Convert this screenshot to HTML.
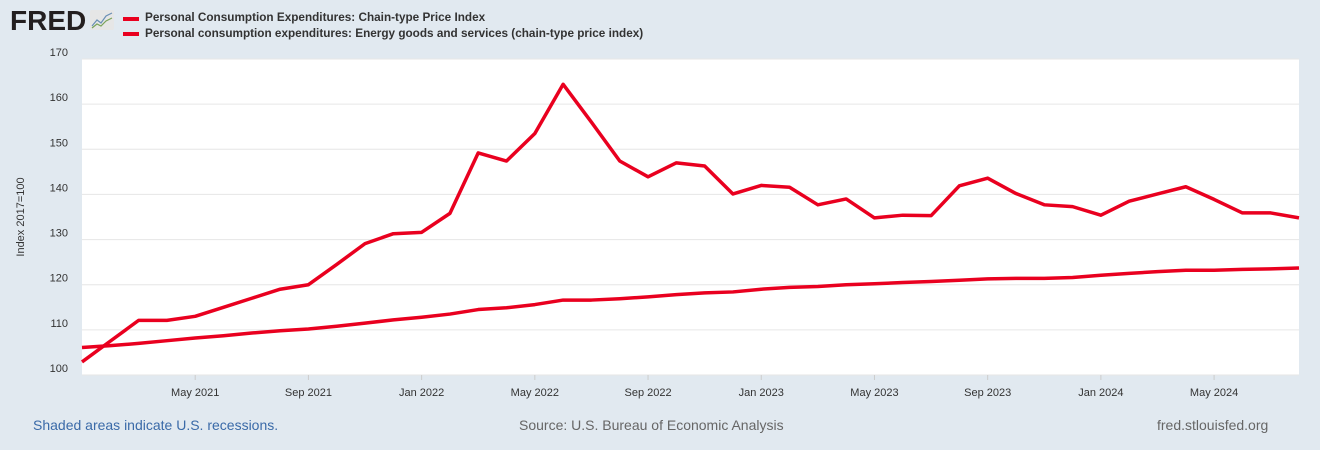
<!DOCTYPE html>
<html><head><meta charset="utf-8"><style>
body{margin:0;width:1320px;height:450px;background:#e1e9f0;font-family:"Liberation Sans",sans-serif;overflow:hidden;position:relative}
.t{position:absolute;white-space:nowrap}
</style></head><body>
<div class="t" style="left:10px;top:5px;font-size:28px;font-weight:bold;color:#231f20;letter-spacing:0px">FRED</div>
<svg style="position:absolute;left:90px;top:10px" width="24" height="20"><rect width="24" height="20" rx="2" fill="#e6e6e6"/><polyline points="2,16 7,10 11,13 16,6 22,3" fill="none" stroke="#6a8fb5" stroke-width="1.2"/><polyline points="2,18 7,14 11,16 16,11 22,8" fill="none" stroke="#7aa35a" stroke-width="1.2"/></svg>
<div style="position:absolute;left:123px;top:17px;width:16px;height:4px;background:#e9001f"></div>
<div style="position:absolute;left:123px;top:32px;width:16px;height:4px;background:#e9001f"></div>
<div class="t" style="left:145px;top:11px;font-size:11.75px;font-weight:bold;color:#333">Personal Consumption Expenditures: Chain-type Price Index</div>
<div class="t" style="left:145px;top:27px;font-size:11.75px;font-weight:bold;color:#333">Personal consumption expenditures: Energy goods and services (chain-type price index)</div>
<svg id="chart" style="position:absolute;left:0;top:0" width="1320" height="450"></svg>
<div class="t" style="left:33px;top:417px;font-size:14px;color:#3a6aa8">Shaded areas indicate U.S. recessions.</div>
<div class="t" style="left:519px;top:417px;font-size:14px;color:#666">Source: U.S. Bureau of Economic Analysis</div>
<div class="t" style="left:1157px;top:417px;font-size:14px;color:#666">fred.stlouisfed.org</div>
<script>
const energy=[102.9,107.5,112.1,112.1,113,115,117,119,120,124.5,129.1,131.3,131.6,135.8,149.2,147.4,153.5,164.4,156,147.4,143.9,147,146.3,140.1,142,141.6,137.7,139,134.8,135.4,135.3,141.9,143.6,140.2,137.7,137.3,135.4,138.5,140.1,141.7,138.9,135.9,135.9,134.8];
const pce=[106.1,106.5,107.0,107.6,108.2,108.7,109.3,109.8,110.2,110.8,111.5,112.2,112.8,113.5,114.5,114.9,115.6,116.6,116.6,116.9,117.3,117.8,118.2,118.4,119.0,119.4,119.6,120.0,120.2,120.5,120.7,121.0,121.3,121.4,121.4,121.6,122.1,122.5,122.9,123.2,123.2,123.4,123.5,123.7];
const yTicks=[100,110,120,130,140,150,160,170];
const xTickLabels=["May 2021","Sep 2021","Jan 2022","May 2022","Sep 2022","Jan 2023","May 2023","Sep 2023","Jan 2024","May 2024"];
const xTickIdx=[4,8,12,16,20,24,28,32,36,40];
const L=82,R=1299,T=59,B=375;
const xs=i=>L+(R-L)*i/43, ys=v=>B-(v-100)/70*(B-T);
const svg=document.getElementById('chart');const NS='http://www.w3.org/2000/svg';
function mk(t,a){const e=document.createElementNS(NS,t);for(const k in a)e.setAttribute(k,a[k]);svg.appendChild(e);return e;}
const bg=mk('rect',{x:L,y:T,width:R-L,height:B-T,fill:'#fff'});


yTicks.forEach(v=>{
 const g=mk('line',{x1:L,x2:R,y1:ys(v),y2:ys(v),stroke:'#e6e6e6','stroke-width':1});
 
 
 const t=mk('text',{x:68,y:ys(v)-3,'text-anchor':'end','font-size':11,fill:'#333'});t.textContent=v;
 
 
});
xTickIdx.forEach((idx,k)=>{
 const t=mk('text',{x:xs(idx),y:396,'text-anchor':'middle','font-size':11,fill:'#333'});t.textContent=xTickLabels[k];
 
 
 const m=mk('line',{x1:xs(idx),x2:xs(idx),y1:B,y2:B+5,stroke:'#ccc'});
 
 
});
const yt=mk('text',{x:0,y:0,transform:'translate(24,217) rotate(-90)','text-anchor':'middle','font-size':11,fill:'#333'});yt.textContent='Index 2017=100';


[[pce,'pce-line'],[energy,'energy-line']].forEach(([d,n])=>{
 const p=mk('polyline',{points:d.map((v,i)=>xs(i)+','+ys(v)).join(' '),fill:'none',stroke:'#e9001f','stroke-width':3.5,'stroke-linejoin':'round'});
 
 
});
</script>
</body></html>
